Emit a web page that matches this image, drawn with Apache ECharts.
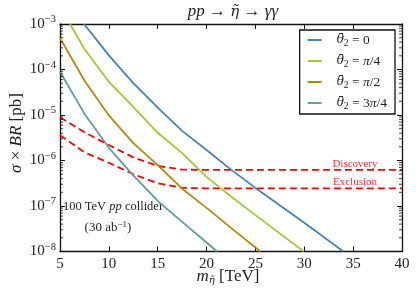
<!DOCTYPE html>
<html><head><meta charset="utf-8">
<script src="https://cdn.jsdelivr.net/npm/echarts@6/dist/echarts.min.js"></script>
<style>html,body{margin:0;padding:0;background:#fff}#c{width:416px;height:299px}</style>
</head><body><div id="c"></div><script>
// ---- data ----
const xTickValues = [5, 10, 15, 20, 25, 30, 35, 40];
const yTickExponents = [-8, -7, -6, -5, -4, -3];
const legendNames = ['θ0', 'θπ4', 'θπ2', 'θ3π4'];

const massTheta0 = [7.46, 10, 12.5, 15, 17.5, 20, 22.5, 25, 30, 34];
const brTheta0   = [1.0e-3, 2.04e-4, 5.0e-5, 1.45e-5, 4.47e-6, 1.70e-6, 6.3e-7, 2.5e-7, 4.27e-8, 1.0e-8];

const massThetaPi4 = [6.02, 7.5, 10, 12.5, 15, 17.5, 20, 22.5, 25, 29.95];
const brThetaPi4   = [1.0e-3, 2.82e-4, 5.37e-5, 1.51e-5, 4.07e-6, 1.45e-6, 4.37e-7, 1.62e-7, 6.3e-8, 1.0e-8];

const massThetaPi2 = [5, 7.5, 10, 12.5, 15, 17.5, 20, 22.5, 25.5];
const brThetaPi2   = [4.9e-4, 5.75e-5, 9.8e-6, 2.4e-6, 7.9e-7, 2.4e-7, 9.1e-8, 3.3e-8, 1.0e-8];

const massTheta3Pi4 = [5, 7.5, 10, 12.5, 15, 17.5, 20, 21.05];
const brTheta3Pi4   = [8.9e-5, 1.07e-5, 1.9e-6, 4.7e-7, 1.29e-7, 4.47e-8, 1.58e-8, 1.0e-8];

const massDiscovery = [5, 7.5, 10, 12.5, 15, 17.5, 20, 25, 30, 35, 40];
const brDiscovery   = [8.9e-6, 4.17e-6, 2.19e-6, 1.17e-6, 7.6e-7, 6.3e-7, 6.2e-7, 6.2e-7, 6.2e-7, 6.2e-7, 6.2e-7];

const massExclusion = [5, 7.5, 10, 12.5, 15, 17.5, 20, 25, 30, 35, 40];
const brExclusion   = [3.6e-6, 1.51e-6, 8.9e-7, 5.0e-7, 3.16e-7, 2.5e-7, 2.45e-7, 2.45e-7, 2.45e-7, 2.45e-7, 2.45e-7];

// ---- chart ----
const FONT = '"Liberation Serif", "DejaVu Serif", serif';
const DJ = '"DejaVu Serif", serif';
const zip = (xs, ys) => xs.map((x, i) => [x, ys[i]]);

// minor tick positions for the log axis (2..9 x 10^k)
const minorTicks = [];
for (let e = -8; e < -3; e++) for (let m = 2; m <= 9; m++) minorTicks.push([5, m * Math.pow(10, e)]);

const legendLabel = {
  'θ0':  '{t|θ̄}{s|2}{n| = 0}',
  'θπ4': '{t|θ̄}{s|2}{n| = }{i|π}{n|/4}',
  'θπ2': '{t|θ̄}{s|2}{n| = }{i|π}{n|/2}',
  'θ3π4':'{t|θ̄}{s|2}{n| = 3}{i|π}{n|/4}'
};

const lineSeries = (name, xs, ys, color) => ({
  name, type: 'line', data: zip(xs, ys), showSymbol: false, symbol: 'none',
  lineStyle: { color, width: 1.8 }, itemStyle: { color }, z: 3, animation: false
});
const dashSeries = (name, xs, ys) => ({
  name, type: 'line', data: zip(xs, ys), showSymbol: false, symbol: 'none',
  lineStyle: { color: '#ff0000', width: 1.8, type: [7, 4] }, z: 2, animation: false
});

const axisCommonX = {
  type: 'value', min: 5, max: 40, interval: 5,
  axisLine: { show: true, onZero: false, lineStyle: { color: '#111', width: 1.3 } },
  axisTick: { show: true, inside: true, length: 5, lineStyle: { color: '#111', width: 1 } },
  splitLine: { show: false }
};
const axisCommonY = {
  type: 'log', logBase: 10, min: 1e-8, max: 1e-3,
  axisLine: { show: true, onZero: false, lineStyle: { color: '#111', width: 1.3 } },
  axisTick: { show: true, inside: true, length: 5, lineStyle: { color: '#111', width: 1 } },
  splitLine: { show: false }
};

const chart = echarts.init(document.getElementById('c'), null, { renderer: 'canvas' });
chart.setOption({
  animation: false,
  backgroundColor: '#fff',
  grid: { left: 60, right: 14, top: 24, bottom: 47.5, containLabel: false },
  xAxis: [
    Object.assign({}, axisCommonX, {
      position: 'bottom',
      axisLabel: { show: true, margin: 5, fontFamily: FONT, fontSize: 15, color: '#222',
        formatter: v => xTickValues.includes(v) ? String(v) : '' }
    }),
    Object.assign({}, axisCommonX, { position: 'top', axisLabel: { show: false } })
  ],
  yAxis: [
    Object.assign({}, axisCommonY, {
      position: 'left',
      axisLabel: { show: true, margin: 4, color: '#222',
        formatter: v => {
          const e = Math.round(Math.log10(v));
          if (!yTickExponents.includes(e)) return '';
          return '{b|10}{e|' + String(e).replace('-', '−') + '}';
        },
        rich: {
          b: { fontFamily: FONT, fontSize: 15, color: '#222' },
          e: { fontFamily: FONT, fontSize: 10.5, color: '#222', padding: [0, 0, 9, 0] }
        }
      }
    }),
    Object.assign({}, axisCommonY, { position: 'right', axisLabel: { show: false } })
  ],
  legend: {
    data: legendNames,
    orient: 'vertical', right: 21, top: 30,
    padding: [3, 8, 3, 8], itemGap: 6, itemWidth: 14, itemHeight: 12,
    backgroundColor: '#fff', borderColor: '#111', borderWidth: 1.3, borderRadius: 0,
    icon: 'path://M0,5 L14,5 L14,7 L0,7 Z',
    formatter: name => legendLabel[name],
    textStyle: {
      lineHeight: 14, padding: [0, 0, 0, 10],
      rich: {
        t: { fontFamily: DJ, fontStyle: 'italic', fontSize: 12, color: '#222' },
        i: { fontFamily: FONT, fontStyle: 'italic', fontSize: 13.5, color: '#222' },
        n: { fontFamily: FONT, fontSize: 13.5, color: '#222' },
        s: { fontFamily: FONT, fontSize: 9.5, color: '#222', padding: [6, 0, 0, 0] }
      }
    }
  },
  series: [
    lineSeries('θ0', massTheta0, brTheta0, '#4682b4'),
    lineSeries('θπ4', massThetaPi4, brThetaPi4, '#9acd32'),
    lineSeries('θπ2', massThetaPi2, brThetaPi2, '#b8860b'),
    lineSeries('θ3π4', massTheta3Pi4, brTheta3Pi4, '#5f9ea0'),
    dashSeries('Discovery', massDiscovery, brDiscovery),
    dashSeries('Exclusion', massExclusion, brExclusion),
    {
      type: 'custom', name: 'minor', data: minorTicks, silent: true, z: 10, clip: false,
      renderItem: (params, api) => {
        const v = api.value(1);
        const p0 = api.coord([5, v]);
        const p1 = api.coord([40, v]);
        const st = { stroke: '#111', lineWidth: 0.8 };
        return { type: 'group', children: [
          { type: 'line', shape: { x1: p0[0], y1: p0[1], x2: p0[0] + 3, y2: p0[1] }, style: st },
          { type: 'line', shape: { x1: p1[0] - 3, y1: p1[1], x2: p1[0], y2: p1[1] }, style: st }
        ]};
      }
    }
  ],
  graphic: [
    { type: 'text', x: 233, y: 12, style: {
        text: '{i|pp} → {t|η̃} → {i|γγ}', align: 'center', verticalAlign: 'middle',
        font: '17px ' + FONT, fill: '#222',
        rich: {
          i: { fontFamily: FONT, fontStyle: 'italic', fontSize: 17, fill: '#222' },
          t: { fontFamily: DJ, fontStyle: 'italic', fontSize: 15, fill: '#222' } } } },
    { type: 'text', x: 228, y: 277, style: {
        text: '{i|m}{s|η̃}{n| [TeV]}', align: 'center', verticalAlign: 'middle',
        font: '17px ' + FONT, fill: '#222',
        rich: {
          i: { fontFamily: FONT, fontStyle: 'italic', fontSize: 17, fill: '#222' },
          s: { fontFamily: DJ, fontStyle: 'italic', fontSize: 10, fill: '#222', padding: [7, 0, 0, 0] },
          n: { fontFamily: FONT, fontSize: 17, fill: '#222' } } } },
    { type: 'text', x: 17, y: 133, rotation: Math.PI / 2, style: {
        text: '{i|σ} × {i|BR} [pb]', align: 'center', verticalAlign: 'middle',
        font: '17px ' + FONT, fill: '#222',
        rich: { i: { fontFamily: FONT, fontStyle: 'italic', fontSize: 17, fill: '#222' } } } },
    { type: 'text', x: 355, y: 164, style: { text: 'Discovery', align: 'center', verticalAlign: 'middle',
        font: '11px ' + FONT, fill: '#ff3030' } },
    { type: 'text', x: 355, y: 182, style: { text: 'Exclusion', align: 'center', verticalAlign: 'middle',
        font: '11px ' + FONT, fill: '#ff3030' } },
    { type: 'text', x: 113, y: 207, style: {
        text: '100 TeV {i|pp} collider', align: 'center', verticalAlign: 'middle',
        font: '12.5px ' + FONT, fill: '#222',
        rich: { i: { fontFamily: FONT, fontStyle: 'italic', fontSize: 12.5, fill: '#222' } } } },
    { type: 'text', x: 108, y: 228, style: {
        text: '(30 ab{e|−1})', align: 'center', verticalAlign: 'middle',
        font: '13px ' + FONT, fill: '#222',
        rich: { e: { fontFamily: FONT, fontSize: 9, fill: '#222', padding: [0, 0, 7, 0] } } } }
  ]
});
</script></body></html>
